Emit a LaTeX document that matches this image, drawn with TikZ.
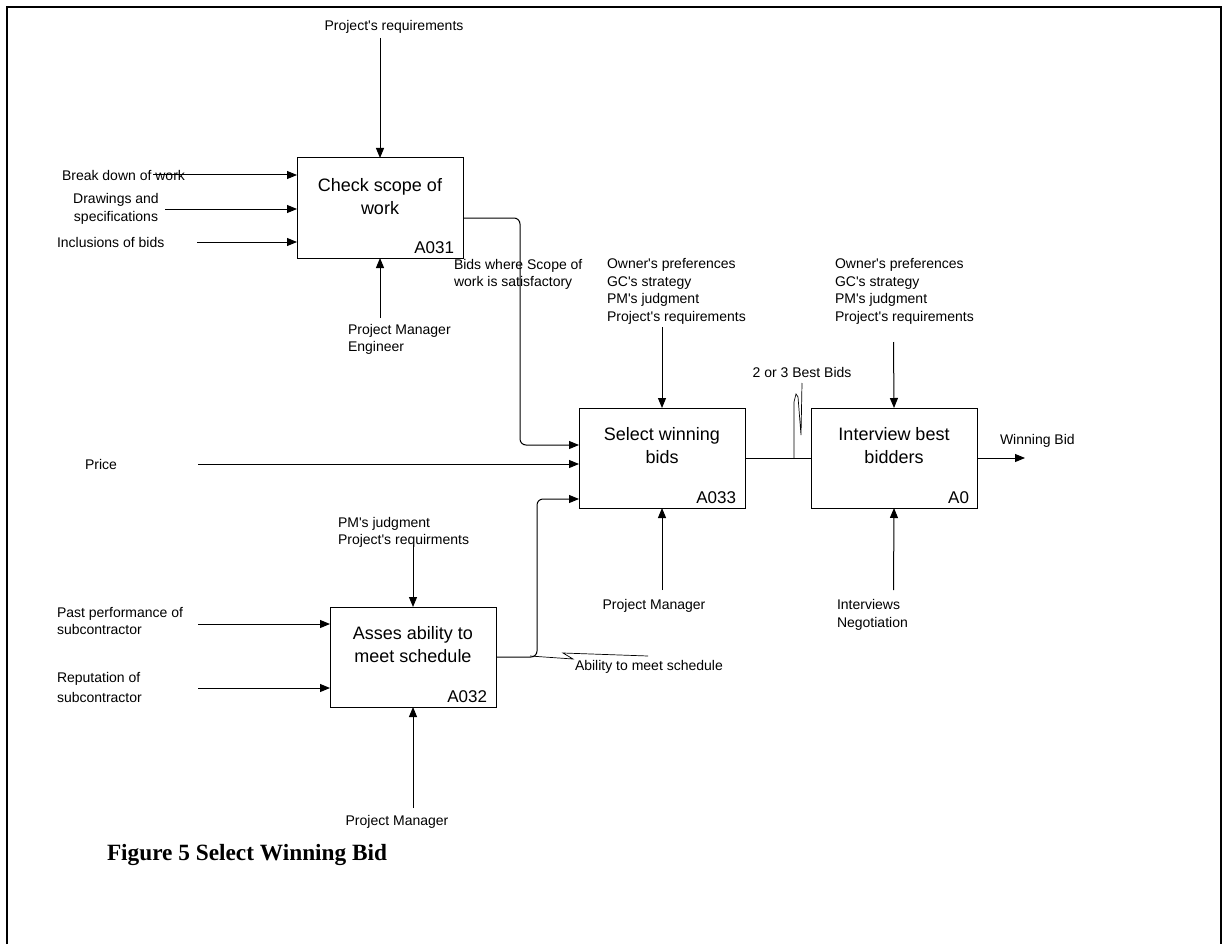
\documentclass[tikz,border=0pt]{standalone}
\usepackage{fontspec}
\setmainfont{Liberation Sans}[Ligatures=TeXOff]
\newfontfamily\capfont{Liberation Serif}
\usetikzlibrary{arrows.meta,calc}

\begin{document}
\begin{tikzpicture}[x=1pt,y=-1pt,
  every node/.style={inner sep=0pt, outer sep=0pt},
  lbl/.style={font=\fontsize{14}{17.5}\selectfont, align=left},
  proc/.style={draw, line width=1pt, minimum width=166pt, minimum height=100pt, anchor=north west},
  ptext/.style={font=\fontsize{18}{23}\selectfont, align=center},
  ptag/.style={font=\fontsize{17}{20}\selectfont, anchor=base east},
  flow/.style={line width=1pt, -{Triangle[length=10pt,width=8pt]}},
  wire/.style={line width=1pt},
  leader/.style={line width=0.7pt}
]
\useasboundingbox (0,0) rectangle (1222,944);
% page frame (open at the bottom)
\draw[line width=2pt] (7,944) -- (7,7) -- (1221,7) -- (1221,944);

% activity boxes
\node[proc] (a031) at (297,158) {};
\node[proc] (a033) at (579,408) {};
\node[proc] (a0)   at (811,408) {};
\node[proc] (a032) at (330,607) {};

\node[ptext] (a031t) at ($(a031.north)+(0,39)$) {Check scope of\\work};
\node[ptext] (a033t) at ($(a033.north)+(0,38)$) {Select winning\\bids};
\node[ptext] (a0t)   at ($(a0.north)+(0,38)$)   {Interview best\\bidders};
\node[ptext] (a032t) at ($(a032.north)+(0,38)$) {Asses ability to\\meet schedule};

\node[ptag] (a031n) at ($(a031.south east)+(-9,-5)$) {A031};
\node[ptag] (a033n) at ($(a033.south east)+(-9,-5)$) {A033};
\node[ptag] (a0n)   at ($(a0.south east)+(-8,-5)$)   {A0};
\node[ptag] (a032n) at ($(a032.south east)+(-9,-5)$) {A032};

% labels
\node[lbl] (treq) at (394,27) {Project's requirements};
\node[lbl, anchor=west] (tbdw) at (62,175) {Break down of work};
\node[lbl, align=center] (tdraw) at (116,209) {Drawings and\\specifications};
\node[lbl, anchor=west] (tincl) at (57,242) {Inclusions of bids};
\node[lbl, anchor=west] (tpme) at (348,339.5) {Project Manager\\Engineer};
\node[lbl, anchor=west] (tbids) at (454,274.5) {Bids where Scope of\\work is satisfactory};
\node[lbl, anchor=west] (town1) at (607,291.5) {Owner's preferences\\GC's strategy\\PM's judgment\\Project's requirements};
\node[lbl, anchor=west] (town2) at (835,291.5) {Owner's preferences\\GC's strategy\\PM's judgment\\Project's requirements};
\node[lbl] (tbest) at (802,372) {2 or 3 Best Bids};
\node[lbl, anchor=west] (tprice) at (85,464) {Price};
\node[lbl, anchor=west] (twin) at (1000,441) {Winning Bid};
\node[lbl] (tpm33) at (654,606) {Project Manager};
\node[lbl, anchor=west] (tintv) at (837,615) {Interviews\\Negotiation};
\node[lbl, anchor=west] (tpast) at (57,621) {Past performance of\\subcontractor};
\node[lbl, anchor=west, font=\fontsize{14}{20}\selectfont] (trep) at (57,687) {Reputation of\\subcontractor};
\node[lbl, anchor=west] (tpmj) at (338,532.5) {PM's judgment\\Project's requirments};
\node[lbl, anchor=west] (tabil) at (575,667) {Ability to meet schedule};
\node[lbl] (tpm32) at (397,822) {Project Manager};
\node[font=\capfont\bfseries\fontsize{23.3}{28}\selectfont, anchor=west] (cap) at (107,855) {Figure 5 Select Winning Bid};

% free ends of the boundary arrows
\coordinate (e1) at (380,38);
\coordinate (e2) at (153,175);
\coordinate (e3) at (165,209);
\coordinate (e4) at (197,242);
\coordinate (e5) at (380,318);
\coordinate (e6) at (662,327);
\coordinate (e7) at (893.5,342);
\coordinate (e8) at (198,464);
\coordinate (e9) at (662,590);
\coordinate (e10) at (893.5,590);
\coordinate (e11) at (198,624);
\coordinate (e12) at (198,688);
\coordinate (e13) at (413,545);
\coordinate (e14) at (413,808);
\coordinate (e15) at (1025,458);

% inputs, controls and mechanisms
\draw[flow] (e1) -- (a031.north);
\draw[flow] (e2) -- (e2 -| a031.west);
\draw[flow] (e3) -- (e3 -| a031.west);
\draw[flow] (e4) -- (e4 -| a031.west);
\draw[flow] (e5) -- (a031.south);
\draw[flow] (e6) -- (a033.north);
\draw[flow] (e7) -- (a0.north);
\draw[flow] (e8) -- (e8 -| a033.west);
\draw[flow] (e9) -- (a033.south);
\draw[flow] (e10) -- (a0.south);
\draw[flow] (e11) -- (e11 -| a032.west);
\draw[flow] (e12) -- (e12 -| a032.west);
\draw[flow] (e13) -- (a032.north);
\draw[flow] (e14) -- (a032.south);

% flows between activities
\coordinate (k1) at (520,218);
\coordinate (k2) at (520,445);
\draw[flow, rounded corners=6pt] (a031.east |- k1) -- (k1) -- (k2) -- (k2 -| a033.west);
\coordinate (k3) at (537,657);
\coordinate (k4) at (537,499);
\draw[flow, rounded corners=6pt] (a032.east) -- (k3) -- (k4) -- (k4 -| a033.west);
\draw[wire] (a033.east) -- (a0.west);
\draw[flow] (a0.east) -- (e15);

% squiggle leaders tying labels to their arrows
\draw[leader] (794,458) -- (794,402) -- (796,394) -- (798,397) -- (801,435) -- (802,383);
\draw[leader] (530,656) -- (573,659) -- (563,653) -- (648,656);
\end{tikzpicture}
\end{document}
